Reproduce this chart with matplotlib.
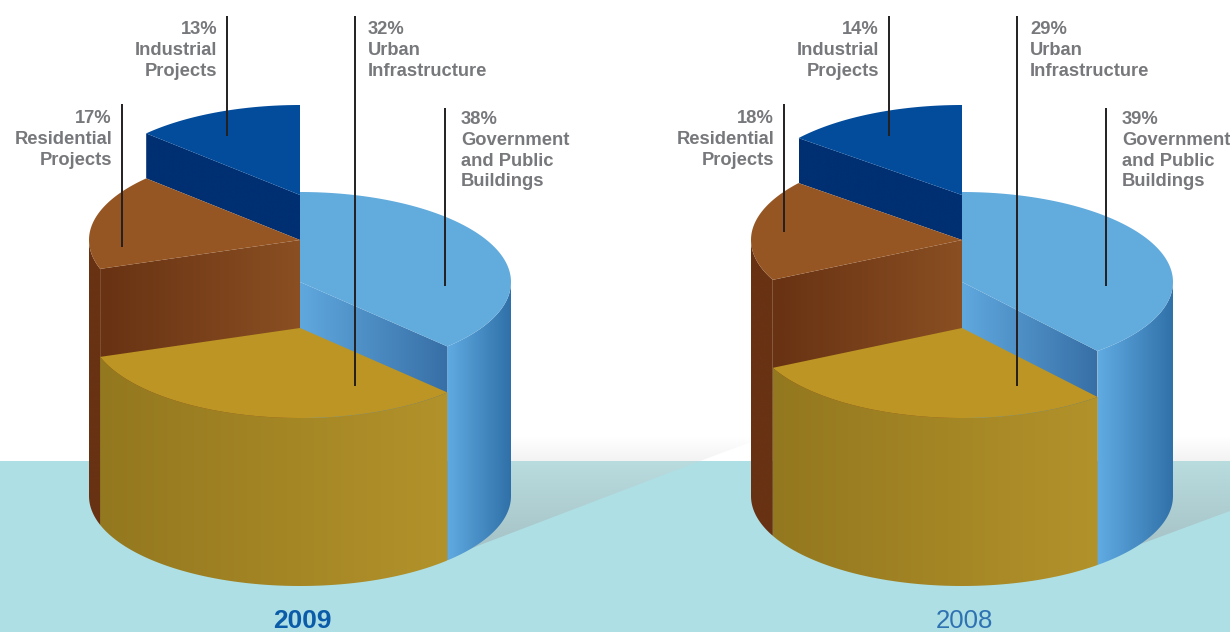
import numpy as np
import matplotlib
matplotlib.use('Agg')
import matplotlib.pyplot as plt
from matplotlib.patches import Polygon
from matplotlib.colors import to_rgb

plt.rcParams['font.family'] = ['Liberation Sans', 'DejaVu Sans']

# data
categories = ['Government\nand Public\nBuildings', 'Urban\nInfrastructure', 'Residential\nProjects', 'Industrial\nProjects']
labels_2009 = [38, 32, 17, 13]
labels_2008 = [39, 29, 18, 14]
# slice sizes as drawn (they differ a bit from the printed labels)
shares_2009 = [37.7, 32.1, 17.2, 13.0]
shares_2008 = [38.9, 28.8, 18.2, 14.1]
years = ['2009', '2008']

# drawing setup, everything in pixels of the 1230x632 picture
RX = 211
RY = 90
BASE_Y = 496
LIFT = [214, 168, 256, 301]          # height of each slice top above the base
FLOOR = [0, 0, 0, 256]               # industrial slice sits on top of residential
TOP_COL = ['#62abdd', '#bd9524', '#965623', '#034c9b']
OUTER_COL = [('#60abe2', '#3070a8'), ('#94781f', '#b2922a'), ('#683213', '#683213'), None]
INNER_COL = [('#5fa8de', '#376fa6'), None, ('#683213', '#8a4f22'), ('#002f72', '#002f72')]

fig = plt.figure(figsize=(12.3, 6.32), dpi=100)
ax = fig.add_axes([0, 0, 1, 1])
ax.set_xlim(0, 1230)
ax.set_ylim(632, 0)
ax.axis('off')


def gradient(pts, c0, c1, z, vertical=False):
    pts = np.array(pts)
    x0, x1 = pts[:, 0].min(), pts[:, 0].max()
    y0, y1 = pts[:, 1].min(), pts[:, 1].max()
    a = np.linspace(0, 1, 256)[:, None]
    img = (1 - a) * np.array(to_rgb(c0)) + a * np.array(to_rgb(c1))
    if vertical:
        img = img[:, None, :]
    else:
        img = img[None, :, :]
    im = ax.imshow(img, extent=[x0, x1, y1, y0], origin='upper', aspect='auto', zorder=z, interpolation='bilinear')
    patch = Polygon(pts, closed=True, transform=ax.transData)
    im.set_clip_path(patch)


def arc(cx, cy, t0, t1):
    t = np.radians(np.linspace(t0, t1, 120))
    return np.column_stack([cx + RX * np.sin(t), cy - RY * np.cos(t)])


def draw_pie(cx, shares, z):
    edges = np.cumsum([0] + shares) / sum(shares) * 360
    # back slices first so the gold one ends up in front
    for i in [3, 2, 0, 1]:
        t0, t1 = edges[i], edges[i + 1]
        top = BASE_Y - LIFT[i]
        floor = BASE_Y - FLOOR[i]
        # outer wall, only the part facing the viewer
        a0, a1 = max(t0, 90), min(t1, 270)
        if OUTER_COL[i] and a1 > a0:
            up = arc(cx, top, a0, a1)
            down = arc(cx, floor, a0, a1)[::-1]
            gradient(np.vstack([up, down]), OUTER_COL[i][0], OUTER_COL[i][1], z)
        # cut wall between the centre and the slice edge
        if INNER_COL[i]:
            t_edge = t1 if i == 0 else t0
            e = arc(cx, top, t_edge, t_edge)[0]
            c = (cx, top)
            wall = [c, e, (e[0], e[1] + LIFT[i] - FLOOR[i]), (cx, top + LIFT[i] - FLOOR[i])]
            gradient(wall, INNER_COL[i][0], INNER_COL[i][1], z)
        face = np.vstack([[cx, top], arc(cx, top, t0, t1)])
        ax.add_patch(Polygon(face, closed=True, fc=TOP_COL[i], ec='none', zorder=z + 0.1))
        z += 1
    return z


# background
ax.add_patch(Polygon([(0, 461), (1230, 461), (1230, 632), (0, 632)], fc='#aedfe4', ec='none', zorder=0))

# floor shadows behind the pies
gradient([(511, 437), (751, 437), (751, 442), (700, 461), (511, 461)], '#ffffff', '#f3f3f3', 1, vertical=True)
gradient([(1173, 437), (1230, 437), (1230, 461), (1173, 461)], '#ffffff', '#f3f3f3', 1, vertical=True)
gradient([(470, 461), (700, 461), (480, 545), (470, 549)], '#b9dcdf', '#a6c3c7', 1, vertical=True)
gradient([(1130, 461), (1230, 461), (1230, 511), (1130, 548)], '#b9dcdf', '#a6c3c7', 1, vertical=True)

z = draw_pie(300, shares_2009, 2)
z = draw_pie(962, shares_2008, z)

# leader lines (top, bottom) and text anchors for each chart
leaders = [
    [(445, 108, 286), (355, 16, 386), (122, 104, 247), (227, 16, 136)],
    [(1106, 108, 286), (1017, 16, 386), (784, 104, 232), (889, 16, 136)],
]
anchors = [
    [(461, 111, 'left'), (368, 21, 'left'), (112, 110, 'right'), (217, 21, 'right')],
    [(1122, 111, 'left'), (1030, 21, 'left'), (774, 110, 'right'), (879, 21, 'right')],
]

for j, printed in enumerate([labels_2009, labels_2008]):
    for i, cat in enumerate(categories):
        x, y0, y1 = leaders[j][i]
        ax.plot([x, x], [y0, y1], color='#231f20', lw=1.4, zorder=z + 1, solid_capstyle='butt')
        tx, ty, ha = anchors[j][i]
        ax.text(tx, ty, f'{printed[i]}%\n{cat}', ha=ha, va='top', multialignment=ha, fontsize=13.2,
                fontweight='bold', color='#77787b', linespacing=1.29, zorder=z + 2)

ax.text(302, 621, years[0], ha='center', va='center', fontsize=19, fontweight='bold', color='#0a5ca8', zorder=z + 2)
ax.text(964, 621, years[1], ha='center', va='center', fontsize=18.5, color='#2f72b2', zorder=z + 2)

ax.set_xlim(0, 1230)
ax.set_ylim(632, 0)
fig.savefig('out.png', dpi=100)
